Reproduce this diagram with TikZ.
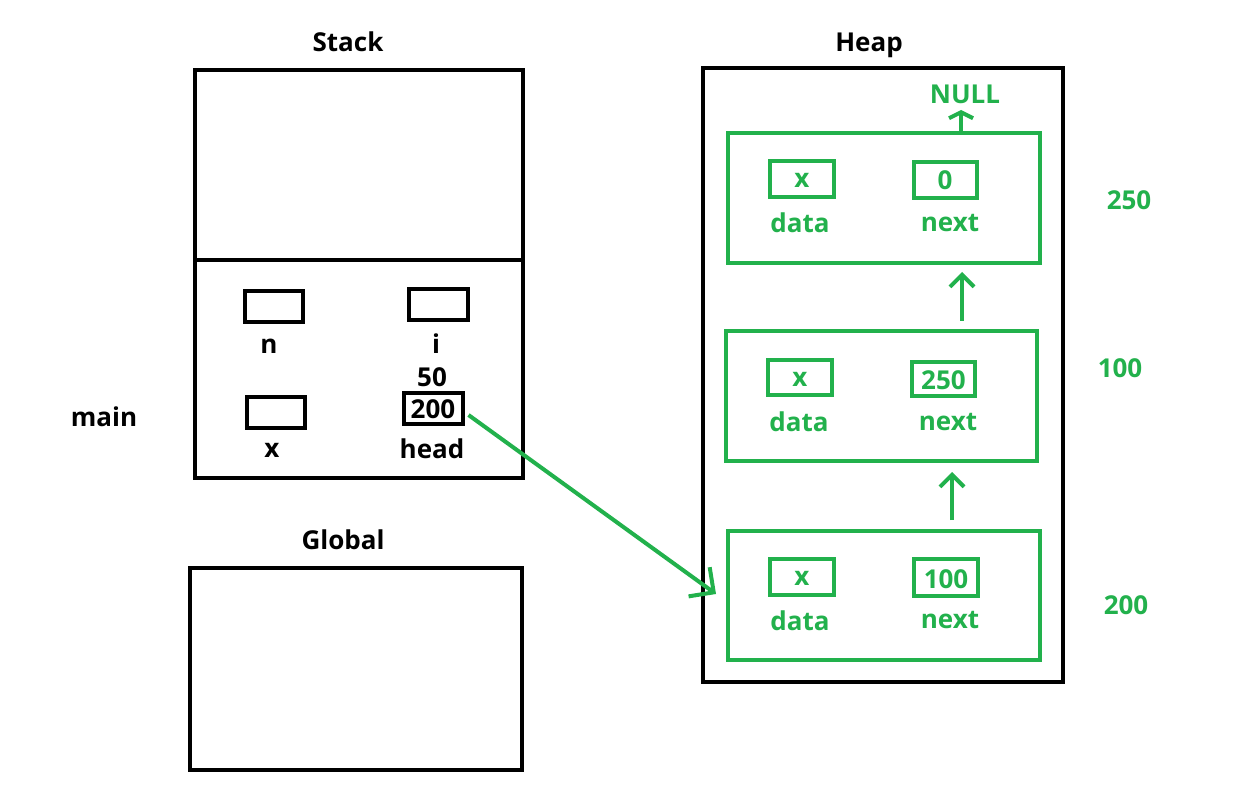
\documentclass[tikz,border=0pt]{standalone}
\usepackage{fontspec}
\setmainfont{Open Sans}
\usetikzlibrary{arrows.meta}
\definecolor{pgreen}{RGB}{34,177,76}
\begin{document}
\begin{tikzpicture}[x=1pt,y=-1pt,
  bbox/.style={draw=black, line width=4pt, inner sep=0pt},
  gbox/.style={draw=pgreen, line width=4pt, inner sep=0pt},
  lbl/.style={font=\fontsize{26}{30}\selectfont\bfseries, anchor=base, inner sep=0pt},
  glbl/.style={lbl, text=pgreen},
  garrow/.style={draw=pgreen, line width=4pt, -{Straight Barb[length=12pt,width=24pt]}},
  gbig/.style={draw=pgreen, line width=4pt, -{Straight Barb[length=18pt,width=36pt]}},
  gsmall/.style={draw=pgreen, line width=4pt, -{Straight Barb[length=6pt,width=24pt]}}
]
\useasboundingbox[fill=white] (0,0) rectangle (1253,794);

% ---------- Stack ----------
\node[lbl] (stacklbl) at (348,52) {Stack};
\node[bbox, minimum width=328, minimum height=408] (stack) at (359,274) {};
\draw[line width=4pt] (stack.west |- 0,260) -- (stack.east |- 0,260);

\node[bbox, minimum width=58, minimum height=31] (nbox) at (273.5,306.5) {};
\node[bbox, minimum width=59, minimum height=31] (ibox) at (438,305) {};
\node[bbox, minimum width=58, minimum height=31] (xbox) at (275.5,412) {};
\node[bbox, minimum width=59, minimum height=31] (headv) at (433,408) {};
\node[lbl] (n) at (269,353) {n};
\node[lbl] (i) at (436,353) {i};
\node[lbl] (fifty) at (432,386) {50};
\node[lbl] (twohundred) at (433,418) {200};
\node[lbl] (x) at (272,457) {x};
\node[lbl] (head) at (432,458) {head};
\node[lbl] (main) at (104,426) {main};

% ---------- Global ----------
\node[lbl] (globallbl) at (343,549) {Global};
\node[bbox, minimum width=332, minimum height=202] (global) at (356,669) {};

% ---------- Heap ----------
\node[lbl] (heaplbl) at (869,52) {Heap};
\node[bbox, minimum width=360, minimum height=614] (heap) at (883,375) {};

% node 1 (250)
\node[gbox, minimum width=312, minimum height=130] (n1) at (884,198) {};
\node[gbox, minimum width=64, minimum height=36] (n1d) at (802,179) {};
\node[gbox, minimum width=63, minimum height=36] (n1n) at (945.5,180) {};
\node[glbl] at (802,188) {x};
\node[glbl] at (945,190) {0};
\node[glbl] at (800,233) {data};
\node[glbl] at (950,232) {next};
\node[glbl] (null) at (965,104) {NULL};

% node 2 (100)
\node[gbox, minimum width=311, minimum height=130] (n2) at (881.5,396) {};
\node[gbox, minimum width=64, minimum height=35] (n2d) at (800,377.5) {};
\node[gbox, minimum width=63, minimum height=34] (n2n) at (943.5,379) {};
\node[glbl] at (800,386) {x};
\node[glbl] at (943.5,389) {250};
\node[glbl] at (799,431) {data};
\node[glbl] at (948,430) {next};

% node 3 (200)
\node[gbox, minimum width=312, minimum height=129] (n3) at (884,595.5) {};
\node[gbox, minimum width=64, minimum height=36] (n3d) at (802,577) {};
\node[gbox, minimum width=64, minimum height=37] (n3n) at (946,577.5) {};
\node[glbl] at (802,585) {x};
\node[glbl] at (946,588) {100};
\node[glbl] at (800,630) {data};
\node[glbl] at (950,628) {next};

% address labels
\node[glbl] (a250) at (1129,210) {250};
\node[glbl] (a100) at (1120,377) {100};
\node[glbl] (a200) at (1126,614) {200};

% ---------- arrows ----------
\draw[gbig] ([xshift=4pt,yshift=-7pt]headv.east) -- ([xshift=-10pt,yshift=1.5pt]n3.west);
\draw[garrow] ([xshift=68pt,yshift=9pt]n3.north) -- ([xshift=70.5pt,yshift=-9pt]n2.south);
\draw[garrow] ([xshift=80.5pt,yshift=8pt]n2.north) -- ([xshift=78pt,yshift=-7pt]n1.south);
\draw[gsmall] ([xshift=77pt]n1.north) -- ([xshift=77pt,yshift=21pt]n1.north);
\end{tikzpicture}
\end{document}
